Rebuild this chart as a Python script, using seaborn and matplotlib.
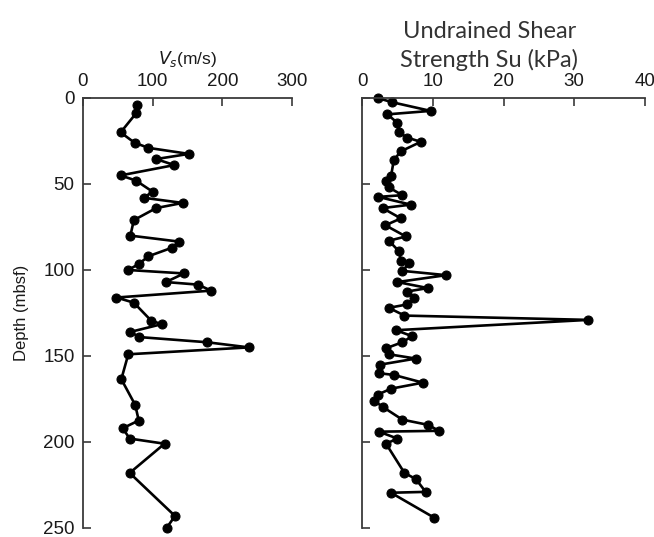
import matplotlib
matplotlib.use("Agg")
import matplotlib.pyplot as plt
import seaborn as sns
import pandas as pd

# shear wave velocity profile (left panel)
vs_depth = [4, 9, 20, 26, 29, 32.5, 35.5, 39, 45, 48, 54.5, 58, 61, 64, 71, 80,
            83.5, 87, 92, 96.5, 100, 102, 107, 108.5, 112, 116, 119, 129.5, 131.5,
            136, 139, 142, 145, 149, 163.5, 178.5, 187.5, 192, 198, 201, 218, 243, 250]
vs_values = [77, 76, 54, 74, 94, 152, 105, 131, 54, 76, 100, 87, 143, 105, 73, 68,
             138, 128, 94, 80, 65, 145, 119, 165, 184, 48, 73, 98, 113,
             68, 81, 178, 238, 65, 55, 75, 80, 57, 67, 117, 67, 132, 120]

# undrained shear strength profile (right panel)
su_depth = [0, 2.5, 7.5, 9.5, 14.5, 20, 23, 25.5, 31, 36, 45.5, 48.5, 52, 56.5, 57.5,
            62, 64, 70, 74, 80.5, 83, 89, 94.5, 96, 100.5, 103, 107, 110.5, 112.5,
            116.5, 120, 122, 126.5, 129, 135, 138.5, 142, 145.5, 149, 151.5, 155,
            160, 161, 165.5, 169, 172.5, 176, 179.5, 187, 190, 193.5, 194, 198, 201,
            218, 221.5, 229, 229.5, 244]
su_values = [2.2, 4.3, 9.7, 3.6, 5.0, 5.2, 6.4, 8.3, 5.5, 4.5, 4.1, 3.4, 3.8, 5.7, 2.3,
             6.9, 2.9, 5.5, 3.3, 6.2, 3.8, 5.2, 5.5, 6.7, 5.7, 11.9, 5.0, 9.3, 6.4,
             7.4, 6.4, 3.8, 6.0, 32, 4.8, 7.1, 5.7, 3.4, 3.8, 7.6, 2.6,
             2.4, 4.5, 8.6, 4.1, 2.2, 1.7, 2.9, 5.7, 9.3, 10.9, 2.4, 5.0, 3.4,
             6.0, 7.6, 9.0, 4.1, 10.2]

vs_ticks = [0, 100, 200, 300]
su_ticks = [0, 10, 20, 30, 40]
depth_ticks = [0, 50, 100, 150, 200, 250]

sns.set_style("ticks")
plt.rcParams['font.family'] = ['Liberation Sans', 'DejaVu Sans']

df_vs = pd.DataFrame({"vs": vs_values, "depth": vs_depth})
df_su = pd.DataFrame({"su": su_values, "depth": su_depth})

fig = plt.figure(figsize=(6.54, 5.37), dpi=100)
ax1 = fig.add_axes([83 / 654, 9 / 537, 209 / 654, 430 / 537])
ax2 = fig.add_axes([362 / 654, 9 / 537, 283 / 654, 430 / 537])

line_kw = dict(sort=False, estimator=None, color="black", marker="o",
               markersize=6.5, linewidth=1.9, markeredgecolor="black")
sns.lineplot(data=df_vs, x="vs", y="depth", ax=ax1, **line_kw)
sns.lineplot(data=df_su, x="su", y="depth", ax=ax2, **line_kw)

for ax, ticks in ((ax1, vs_ticks), (ax2, su_ticks)):
    ax.set_xlim(ticks[0], ticks[-1])
    ax.set_ylim(250, 0)
    ax.set_xticks(ticks)
    ax.set_yticks(depth_ticks)
    ax.xaxis.set_ticks_position("top")
    ax.xaxis.set_label_position("top")
    ax.spines["right"].set_visible(False)
    ax.spines["bottom"].set_visible(False)
    for s in ("left", "top"):
        ax.spines[s].set_color("#3a3a3a")
        ax.spines[s].set_linewidth(1.3)
    ax.tick_params(axis="both", direction="in", length=6, width=1.2,
                   color="#3a3a3a", labelsize=13.5, labelcolor="#1a1a1a", pad=6)
    for l in ax.lines:
        l.set_clip_on(False)

ax2.tick_params(axis="y", labelleft=False)
ax2.set_ylabel("")

ax1.set_xlabel("$V_s$(m/s)", fontsize=12.5, color="#1a1a1a", labelpad=6)
ax1.set_ylabel("Depth (mbsf)", fontsize=12, color="#1a1a1a", labelpad=10)
ax2.set_xlabel("Undrained Shear\nStrength Su (kPa)", fontsize=17, family="Lato",
               color="#333333", labelpad=4, linespacing=1.4, x=0.45)

fig.savefig("out.png", dpi=100)
